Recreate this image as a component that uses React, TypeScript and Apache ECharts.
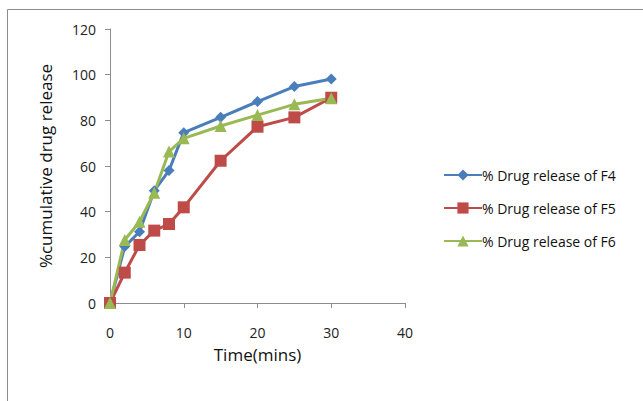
import React, { useEffect, useRef } from "react";
import * as echarts from "echarts";

const timeMins = [0, 2, 4, 6, 8, 10, 15, 20, 25, 30];
const f4 = [0, 24.7, 31.2, 49.2, 58, 74.6, 81.3, 88.2, 94.8, 98.1];
const f5 = [0, 13.3, 25.4, 31.7, 34.6, 41.9, 62.3, 77.2, 81.3, 89.9];
const f6 = [0, 27.6, 35.6, 48.3, 66.3, 72.1, 77.5, 82.3, 87, 89.7];
const seriesNames = ["% Drug release of F4", "% Drug release of F5", "% Drug release of F6"];
const xTicks = [0, 10, 20, 30, 40];
const yTicks = [0, 20, 40, 60, 80, 100, 120];

const FONT = "'Open Sans', 'Liberation Sans', sans-serif";

export default function App() {
  const ref = useRef<HTMLDivElement>(null);
  useEffect(() => {
    if (!ref.current) return;
    const chart = echarts.init(ref.current, undefined, { renderer: "svg" });
    const pair = (ys: number[]) => timeMins.map((t, i) => [t, ys[i]]);
    const colors = ["#4A7EBB", "#BE4B48", "#98B954"];
    const symbols = ["diamond", "rect", "triangle"];
    const sizes = [11, 12, 12];
    const datas = [f4, f5, f6];
    chart.setOption({
      animation: false,
      backgroundColor: "#ffffff",
      textStyle: { fontFamily: FONT },
      graphic: [
        {
          type: "rect",
          shape: { x: 7.5, y: 9.5, width: 700, height: 500 },
          style: { fill: "none", stroke: "#8c8c8c", lineWidth: 1 },
          silent: true,
        },
      ],
      grid: { left: 110, top: 29, right: 238, bottom: 98, containLabel: false },
      legend: {
        orient: "vertical",
        left: 438,
        top: 163,
        itemGap: 19,
        itemWidth: 38,
        itemHeight: 14,
        data: seriesNames,
        textStyle: { fontFamily: FONT, fontSize: 14, color: "#111", padding: [0, 0, 0, -5] },
      },
      xAxis: {
        type: "value",
        min: 0,
        max: 40,
        interval: 10,
        name: "Time(mins)",
        nameLocation: "middle",
        nameGap: 43,
        nameTextStyle: { fontFamily: FONT, fontSize: 17, color: "#111" },
        axisLine: { show: true, lineStyle: { color: "#8c8c8c", width: 1 } },
        axisTick: { show: true, length: 5, lineStyle: { color: "#8c8c8c" } },
        axisLabel: {
          fontFamily: FONT,
          fontSize: 14,
          color: "#222",
          margin: 22,
          customValues: xTicks,
        },
        splitLine: { show: false },
      },
      yAxis: {
        type: "value",
        min: 0,
        max: 120,
        interval: 20,
        name: "%cumulative drug release",
        nameLocation: "middle",
        nameGap: 56,
        nameRotate: 90,
        nameTextStyle: { fontFamily: FONT, fontSize: 17, color: "#111" },
        axisLine: { show: true, lineStyle: { color: "#8c8c8c", width: 1 } },
        axisTick: { show: true, length: 5, lineStyle: { color: "#8c8c8c" } },
        axisLabel: {
          fontFamily: FONT,
          fontSize: 14,
          color: "#222",
          margin: 14,
          customValues: yTicks,
        },
        splitLine: { show: false },
      },
      series: seriesNames.map((name, i) => ({
        name,
        type: "line",
        data: pair(datas[i]),
        symbol: symbols[i],
        symbolSize: sizes[i],
        showAllSymbol: true,
        color: colors[i],
        lineStyle: { color: colors[i], width: 3 },
        itemStyle: { color: colors[i] },
        emphasis: { disabled: true },
      })),
    });
    return () => chart.dispose();
  }, []);
  return (
    <div
      ref={ref}
      style={{ position: "fixed", left: 0, top: 0, width: 643, height: 401, background: "#fff" }}
    />
  );
}
